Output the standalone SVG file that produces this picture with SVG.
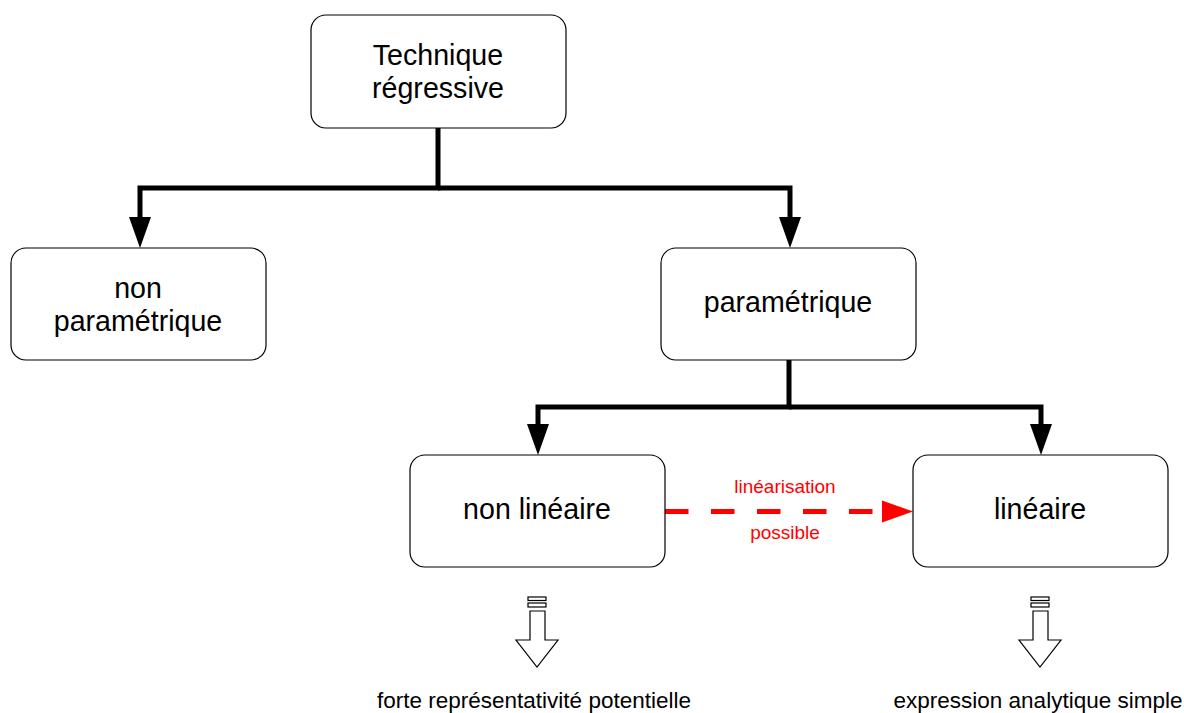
<svg xmlns="http://www.w3.org/2000/svg" width="1184" height="713" viewBox="0 0 1184 713">
<defs>
<style>
.box{fill:#fff;stroke:#000;stroke-width:1.2}
.t{font-family:"Liberation Sans",Arial,sans-serif;font-size:28.6px;fill:#000;text-anchor:middle}
.s{font-family:"Liberation Sans",Arial,sans-serif;font-size:22.5px;fill:#000;text-anchor:middle}
.r{font-family:"Liberation Sans",Arial,sans-serif;font-size:19px;fill:#f00;text-anchor:middle}
.c{fill:none;stroke:#000;stroke-width:5}
.h{fill:#fff;stroke:#000;stroke-width:1.2}
</style>
</defs>
<rect width="1184" height="713" fill="#fff"/>
<g id="connectors">
<path class="c" d="M438,128 V188 H140 V217"/>
<path class="c" d="M438,188 H790 V217"/>
<path d="M129,217 L151,217 L140,248 Z" fill="#000"/>
<path d="M779,217 L801,217 L790,248 Z" fill="#000"/>
<path class="c" d="M789,360 V407 H538 V424"/>
<path class="c" d="M789,407 H1041 V424"/>
<path d="M527,424 L549,424 L538,455 Z" fill="#000"/>
<path d="M1030,424 L1052,424 L1041,455 Z" fill="#000"/>
<line x1="665" y1="511.5" x2="882" y2="511.5" stroke="#f00" stroke-width="5" stroke-dasharray="23.5,22.5"/>
<path d="M882,500.5 L913,511.5 L882,522.5 Z" fill="#f00"/>
<text class="r" x="785" y="493">linéarisation</text>
<text class="r" x="785" y="539">possible</text>
</g>
<g id="n_technique">
<rect class="box" x="311" y="15" width="255" height="113" rx="15"/>
<text class="t" x="438" y="65">Technique</text>
<text class="t" x="438" y="98">régressive</text>
</g>
<g id="n_nonparam">
<rect class="box" x="11" y="248" width="255" height="112" rx="15"/>
<text class="t" x="138" y="298">non</text>
<text class="t" x="138" y="331">paramétrique</text>
</g>
<g id="n_param">
<rect class="box" x="661" y="248" width="255" height="112" rx="15"/>
<text class="t" x="788" y="312">paramétrique</text>
</g>
<g id="n_nonlin">
<rect class="box" x="410" y="455" width="255" height="112" rx="15"/>
<text class="t" x="537" y="519">non linéaire</text>
</g>
<g id="n_lin">
<rect class="box" x="913" y="455" width="255" height="112" rx="15"/>
<text class="t" x="1040" y="519">linéaire</text>
</g>
<g id="arrow_nonlin">
<rect class="h" x="528" y="597" width="18" height="3.5"/>
<rect class="h" x="528" y="603" width="18" height="4"/>
<path class="h" d="M530,611 H545 V640 H558 L537,667 L516,640 H530 Z"/>
<text class="s" x="534" y="708">forte représentativité potentielle</text>
</g>
<g id="arrow_lin">
<rect class="h" x="1031" y="597" width="18" height="3.5"/>
<rect class="h" x="1031" y="603" width="18" height="4"/>
<path class="h" d="M1033,611 H1048 V640 H1061 L1040,667 L1019,640 H1033 Z"/>
<text class="s" x="1038" y="708">expression analytique simple</text>
</g>
</svg>
